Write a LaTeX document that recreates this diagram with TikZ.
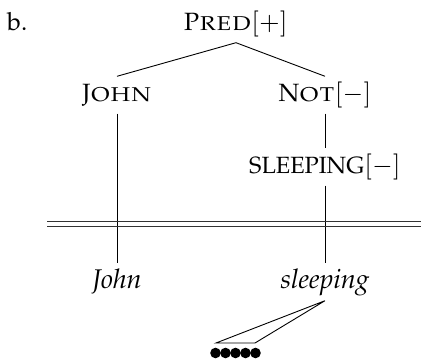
\documentclass[tikz,border=0pt]{standalone}
\usepackage[T1]{fontenc}
\usepackage{mathpazo}
\usetikzlibrary{positioning}

% small caps, set a little wider
\newcommand{\widesc}[1]{\scalebox{1.16}[1]{\textsc{#1}}}

\begin{document}
\begin{tikzpicture}[x=1pt,y=-1pt,
  lbl/.style={inner xsep=0pt,inner ysep=5.5pt,text height=20pt,text depth=6pt,
    font=\fontsize{25}{30}\selectfont},
  word/.style={lbl,font=\fontsize{27}{31}\selectfont\itshape},
  branch/.style={line width=.9pt}]
\useasboundingbox (0,0) rectangle (421,363);
\node[lbl,anchor=base west] (tag) at (7,31) {b.};
\node[lbl,anchor=base] (pred) at (236,31) {P\widesc{red}$[+]$};
\node[lbl,anchor=base] (john) at (117,102) {J\widesc{ohn}};
\node[lbl,anchor=base] (not) at (325,102) {N\widesc{ot}$[-]$};
\node[lbl,anchor=base] (sleep) at (325,174) {{\fontsize{23.5}{27}\selectfont SLEEPING}$[-]$};
\node[word,anchor=base] (johnw) at (117,289) {John};
\node[word,anchor=base] (sleepw) at (325,289) {sleeping};
% tree above the interface line
\draw[branch] (pred.south) -- (john.north);
\draw[branch] (pred.south) -- (not.north);
\draw[branch] (not.south) -- (sleep.north);
\draw[branch] (john.south) -- (johnw.north);
\draw[branch] (sleep.south) -- (sleepw.north);
% double line
\coordinate (cutL) at (47,221.7); \coordinate (cutR) at (421,221.7);
\draw[line width=.8pt,black!80] (cutL) -- (cutR) ([yshift=-5pt]cutL) -- ([yshift=-5pt]cutR);
% roof over the phoneme string
\coordinate (roofL) at (216,343); \coordinate (roofR) at (255,343);
\draw[branch] (sleepw.south) -- (roofL) -- (roofR) -- cycle;
\foreach \i in {0,...,4}
  \fill (215.5+10*\i,353) circle (5.3);
\end{tikzpicture}
\end{document}
